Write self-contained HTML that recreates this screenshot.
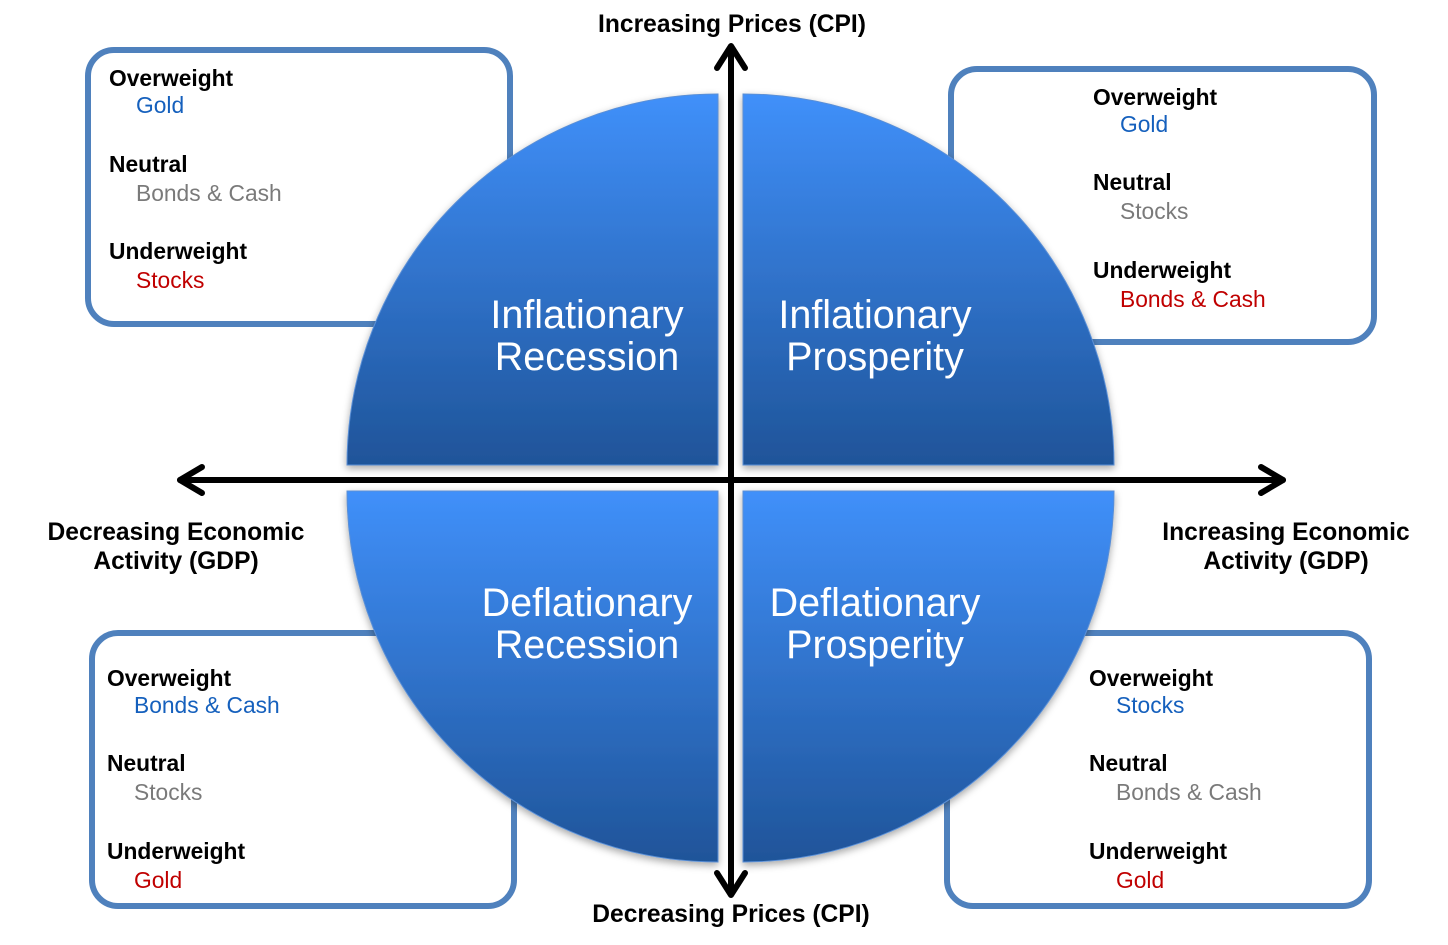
<!DOCTYPE html>
<html><head><meta charset="utf-8"><style>
html,body{margin:0;padding:0;background:#fff;}
svg{display:block;font-family:"Liberation Sans",Arial,sans-serif;}
.b{font-weight:bold;font-size:22.8px;fill:#000;}
.v{font-size:22.8px;}
.bl{fill:#1560bd;}.gr{fill:#7a7a7a;}.rd{fill:#c00000;}
.q{font-size:39.5px;fill:#fff;text-anchor:middle;}
.ax{font-weight:bold;font-size:24.6px;fill:#000;text-anchor:middle;}
</style></head><body>
<svg width="1448" height="945" viewBox="0 0 1448 945" xmlns="http://www.w3.org/2000/svg">
<defs>
<linearGradient id="g" x1="0" y1="0" x2="0" y2="1">
<stop offset="0" stop-color="#4090fa"/><stop offset="1" stop-color="#1f5499"/>
</linearGradient>
<filter id="sh" x="-10%" y="-10%" width="120%" height="120%"><feDropShadow dx="0" dy="3" stdDeviation="4" flood-color="#000" flood-opacity="0.35"/></filter>
</defs>
<g fill="#fff" stroke="#4f81bd" stroke-width="6">
<rect x="88" y="50" width="422" height="274" rx="26"/>
<rect x="951" y="69" width="423" height="273" rx="26"/>
<rect x="92" y="633" width="422" height="273" rx="26"/>
<rect x="947" y="633" width="422" height="273" rx="26"/>
</g>
<g fill="url(#g)" filter="url(#sh)" stroke="#5a8fd6" stroke-width="1">
<path d="M718,465 L347,465 A371,371 0 0 1 718,94 Z"/>
<path d="M743,465 L743,94 A371,371 0 0 1 1114,465 Z"/>
<path d="M718,491 L718,862 A371,371 0 0 1 347,491 Z"/>
<path d="M743,491 L1114,491 A371,371 0 0 1 743,862 Z"/>
</g>
<text class="q" x="587" y="328">Inflationary</text><text class="q" x="587" y="370">Recession</text>
<text class="q" x="875" y="328">Inflationary</text><text class="q" x="875" y="370">Prosperity</text>
<text class="q" x="587" y="616">Deflationary</text><text class="q" x="587" y="658">Recession</text>
<text class="q" x="875" y="616">Deflationary</text><text class="q" x="875" y="658">Prosperity</text>
<g stroke="#000" stroke-width="6" fill="none" stroke-linecap="round" stroke-linejoin="round">
<line x1="731" y1="48" x2="731" y2="893"/>
<polyline points="717,68 731,46 745,68"/>
<polyline points="717,873 731,895 745,873"/>
<line x1="180" y1="480" x2="1283" y2="480"/>
<polyline points="202,467 180,480 202,493"/>
<polyline points="1261,467 1283,480 1261,493"/>
</g>
<text class="ax" x="732" y="32">Increasing Prices (CPI)</text>
<text class="ax" x="731" y="922">Decreasing Prices (CPI)</text>
<text class="ax" x="176" y="540">Decreasing Economic</text><text class="ax" x="176" y="569">Activity (GDP)</text>
<text class="ax" x="1286" y="540">Increasing Economic</text><text class="ax" x="1286" y="569">Activity (GDP)</text>

<text class="b" x="109" y="86">Overweight</text><text class="v bl" x="136" y="113">Gold</text>
<text class="b" x="109" y="172">Neutral</text><text class="v gr" x="136" y="201">Bonds &amp; Cash</text>
<text class="b" x="109" y="259">Underweight</text><text class="v rd" x="136" y="288">Stocks</text>

<text class="b" x="1093" y="105">Overweight</text><text class="v bl" x="1120" y="132">Gold</text>
<text class="b" x="1093" y="190">Neutral</text><text class="v gr" x="1120" y="219">Stocks</text>
<text class="b" x="1093" y="278">Underweight</text><text class="v rd" x="1120" y="307">Bonds &amp; Cash</text>

<text class="b" x="107" y="686">Overweight</text><text class="v bl" x="134" y="713">Bonds &amp; Cash</text>
<text class="b" x="107" y="771">Neutral</text><text class="v gr" x="134" y="800">Stocks</text>
<text class="b" x="107" y="859">Underweight</text><text class="v rd" x="134" y="888">Gold</text>

<text class="b" x="1089" y="686">Overweight</text><text class="v bl" x="1116" y="713">Stocks</text>
<text class="b" x="1089" y="771">Neutral</text><text class="v gr" x="1116" y="800">Bonds &amp; Cash</text>
<text class="b" x="1089" y="859">Underweight</text><text class="v rd" x="1116" y="888">Gold</text>
</svg>
</body></html>
